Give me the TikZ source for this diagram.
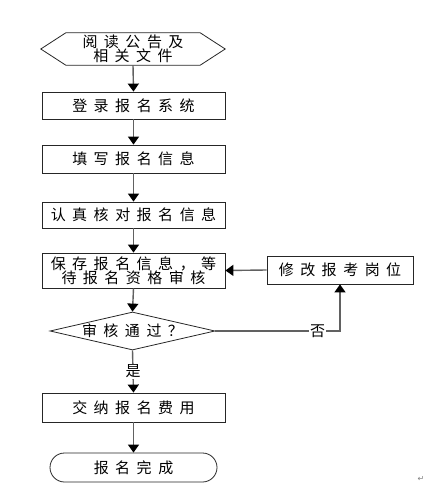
\documentclass[tikz,border=0pt]{standalone}
\usepackage{fontspec}
\setmainfont{Noto Sans CJK SC}
\newfontfamily\dejavu{DejaVu Sans}
\usetikzlibrary{shapes.geometric,shapes.misc,arrows.meta}
\def\spc#1{\spcx#1\spcend}
\def\spcx#1#2\spcend{#1\ifx\relax#2\relax\else\kern6.5pt\spcx#2\spcend\fi}
\tikzset{
  txt/.style={font=\fontsize{15}{14.5}\selectfont, align=center, inner sep=0pt},
  box/.style={txt, draw=black!85, line width=0.8pt, minimum width=183pt},
  outline/.style={draw=black!85, line width=0.8pt},
  arr/.style={draw=black!62, line width=1.4pt, -{Triangle[length=8pt,width=11pt,fill=black,color=black]}},
  lbl/.style={font=\fontsize{15}{15}\selectfont, fill=white, inner sep=1pt},
}
\begin{document}
\begin{tikzpicture}[x=1pt,y=-1pt]
\path[use as bounding box] (0,0) rectangle (445,486);
% start hexagon
\node[txt, minimum width=184pt, minimum height=32pt] (hex) at (133,49) {\spc{阅读公告及}\\\spc{相关文件}};
\draw[outline] (hex.west) -- ([xshift=25pt]hex.north west) -- ([xshift=-25pt]hex.north east)
  -- (hex.east) -- ([xshift=-25pt]hex.south east) -- ([xshift=25pt]hex.south west) -- cycle;
\node[box, minimum height=27pt] (b1) at (133.5,105.5) {\spc{登录报名系统}};
\node[box, minimum height=28pt] (b2) at (133.5,159) {\spc{填写报名信息}};
\node[box, minimum height=26pt] (b3) at (133.5,215) {\spc{认真核对报名信息}};
\node[box, minimum height=35pt] (save) at (133.5,270.5) {\spc{保存报名信息，等}\\\spc{待报名资格审核}};
\node[box, minimum width=146pt, minimum height=28pt] (mod) at (340,270) {\spc{修改报考岗位}};
\node[txt, shape=diamond, draw=black!85, line width=0.8pt, aspect=4.34, minimum width=165pt, minimum height=38pt] (dia) at (132.5,331) {\spc{审核通过？}};
\node[box, minimum height=29pt] (pay) at (133.5,407.5) {\spc{交纳报名费用}};
\node[txt, shape=rounded rectangle, draw=black!85, line width=0.8pt, minimum width=167pt, minimum height=29pt] (fin) at (133.5,467.5) {\spc{报名完成}};
\node[font=\dejavu\fontsize{8}{8}\selectfont, text=black!50, inner sep=0pt] (ret) at (421,479) {↵};
% connectors
\draw[arr] (hex.south) -- (b1.north);
\draw[arr] (b1.south) -- (b2.north);
\draw[arr] (b2.south) -- (b3.north);
\draw[arr] (b3.south) -- (save.north);
\draw[arr] (save.south) -- (dia.north);
\draw[arr] (dia.south) -- node[lbl] {是} (pay.north);
\draw[arr] (pay.south) -- (fin.north);
\draw[arr] (dia.east) -| node[lbl, pos=0.41] {否} (mod.south);
\draw[arr] (mod.west) -- (save.east);
\end{tikzpicture}
\end{document}
